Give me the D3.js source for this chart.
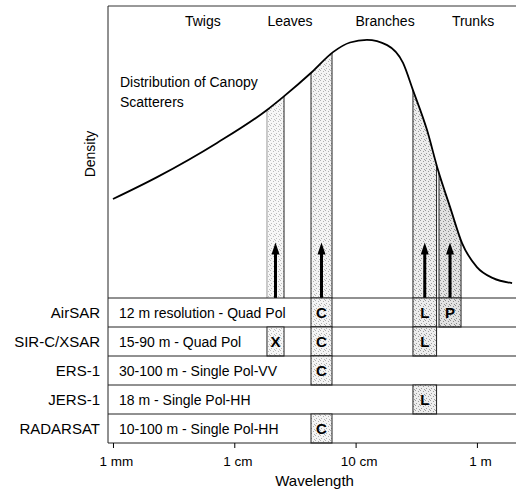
<!DOCTYPE html>
<html>
<head>
<meta charset="utf-8">
<script src="https://cdn.jsdelivr.net/npm/d3@7"></script>
<style>
  body { margin: 0; background: #fff; }
  svg { font-family: "Liberation Sans", Arial, Helvetica, sans-serif; }
</style>
</head>
<body>
<svg id="chart"></svg>
<script>
// wavelength in mm, density relative
const curveWavelength = [1.0, 2.31, 7.2, 18.6, 25.2, 43.7, 65.1, 89.9, 124, 182, 246, 297, 388, 478, 600, 754, 1000, 1358, 1950];
const curveDensity = [0.339, 0.414, 0.531, 0.644, 0.688, 0.774, 0.842, 0.875, 0.884, 0.866, 0.805, 0.712, 0.575, 0.438, 0.312, 0.188, 0.106, 0.068, 0.051];

const bandNames = ['X', 'C', 'L', 'P'];
const bandLow = [18.6, 42.9, 297, 487];
const bandHigh = [25.7, 63.9, 465, 740];
const arrowDensity = 0.19;

const scatterers = ['Twigs', 'Leaves', 'Branches', 'Trunks'];
const scattererWavelength = [5.5, 28.8, 175, 929];

const sensors = ['AirSAR', 'SIR-C/XSAR', 'ERS-1', 'JERS-1', 'RADARSAT'];
const sensorNotes = [
  '12 m resolution - Quad Pol',
  '15-90 m - Quad Pol',
  '30-100 m - Single Pol-VV',
  '18 m - Single Pol-HH',
  '10-100 m - Single Pol-HH',
];
const sensorBands = [['C', 'L', 'P'], ['X', 'C', 'L'], ['C'], ['L'], ['C']];

const tickValues = [1, 10, 100, 1000];
const tickLabels = ['1 mm', '1 cm', '10 cm', '1 m'];

const w = 516;
const h = 494;

const bandStyle = {
  X: { bg: '#f7f7f7', dot: '#bcbcbc' },
  C: { bg: '#f4f4f4', dot: '#b0b0b0' },
  L: { bg: '#ededed', dot: '#9c9c9c' },
  P: { bg: '#e2e2e2', dot: '#8c8c8c' },
};

const svg = d3.select('#chart').attr('width', w).attr('height', h);

const x = d3.scaleLog().domain([0.91, 2100]).range([108, 516]);
const y = d3.scaleLinear().domain([0, 1]).range([298, 6]);
const row = d3.scaleBand().domain(sensors).range([298, 443]);

////////////////////////
////// PATTERNS ////////
////////////////////////

const defs = svg.append('defs');
bandNames.forEach((b) => {
  const p = defs
    .append('pattern')
    .attr('id', 'stip-' + b)
    .attr('width', 5)
    .attr('height', 5)
    .attr('patternUnits', 'userSpaceOnUse');
  p.append('rect').attr('width', 5).attr('height', 5).attr('fill', bandStyle[b].bg);
  [[0, 0], [3, 1], [1, 3], [4, 4]].forEach(([px, py]) => {
    p.append('rect')
      .attr('x', px)
      .attr('y', py)
      .attr('width', 1)
      .attr('height', 1)
      .attr('fill', bandStyle[b].dot);
  });
});

const curvePts = curveWavelength.map((d, i) => [d, curveDensity[i]]);

defs
  .append('clipPath')
  .attr('id', 'under')
  .append('path')
  .attr(
    'd',
    d3
      .area()
      .x((d) => x(d[0]))
      .y0(y(0))
      .y1((d) => y(d[1]))
      .curve(d3.curveMonotoneX)(curvePts)
  );

////////////////////////
///// BANDS (TOP) //////
////////////////////////

const upper = svg.append('g').attr('clip-path', 'url(#under)');

bandNames.forEach((b, i) => {
  upper
    .append('rect')
    .attr('x', x(bandLow[i]))
    .attr('y', y(1))
    .attr('width', x(bandHigh[i]) - x(bandLow[i]))
    .attr('height', y(0) - y(1))
    .attr('fill', 'url(#stip-' + b + ')');
  [bandLow[i], bandHigh[i]].forEach((v, j) => {
    upper
      .append('line')
      .attr('x1', x(v))
      .attr('x2', x(v))
      .attr('y1', y(1))
      .attr('y2', y(0))
      .attr('stroke', b === 'X' && j === 0 ? '#999' : '#222')
      .attr('stroke-width', 1);
  });
});

// arrows
bandNames.forEach((b, i) => {
  const cx = Math.sqrt(bandLow[i] * bandHigh[i]);
  const px = x(cx);
  const tip = y(arrowDensity);
  svg
    .append('rect')
    .attr('x', px - 1.5)
    .attr('y', tip + 10)
    .attr('width', 3)
    .attr('height', y(0) - tip - 10)
    .attr('fill', '#000');
  svg
    .append('path')
    .attr('d', `M${px},${tip} L${px + 4},${tip + 12} L${px - 4},${tip + 12} Z`)
    .attr('fill', '#000');
});

// density curve
svg
  .append('path')
  .attr(
    'd',
    d3
      .line()
      .x((d) => x(d[0]))
      .y((d) => y(d[1]))
      .curve(d3.curveMonotoneX)(curvePts)
  )
  .attr('fill', 'none')
  .attr('stroke', '#000')
  .attr('stroke-width', 1.8);

////////////////////////
/////// FRAME //////////
////////////////////////

svg
  .append('line')
  .attr('x1', x.range()[0])
  .attr('x2', x.range()[1])
  .attr('y1', y(1))
  .attr('y2', y(1))
  .attr('stroke', '#333');

svg
  .append('line')
  .attr('x1', x.range()[0])
  .attr('x2', x.range()[0])
  .attr('y1', y(1))
  .attr('y2', row.range()[1])
  .attr('stroke', '#222');

svg
  .selectAll('.scatterer')
  .data(scatterers)
  .enter()
  .append('text')
  .attr('x', (d, i) => x(scattererWavelength[i]))
  .attr('y', 26)
  .attr('text-anchor', 'middle')
  .attr('font-size', 14)
  .text((d) => d);

svg
  .append('text')
  .attr('x', 120)
  .attr('y', 87)
  .attr('font-size', 14)
  .text('Distribution of Canopy');
svg
  .append('text')
  .attr('x', 120)
  .attr('y', 107)
  .attr('font-size', 14)
  .text('Scatterers');

svg
  .append('text')
  .attr('transform', 'translate(95,154) rotate(-90)')
  .attr('text-anchor', 'middle')
  .attr('font-size', 14)
  .text('Density');

////////////////////////
/////// SENSORS ////////
////////////////////////

sensors.forEach((s, i) => {
  const ry = row(s);
  const rh = row.bandwidth();
  const g = svg.append('g');

  g.append('line')
    .attr('x1', x.range()[0])
    .attr('x2', x.range()[1])
    .attr('y1', ry)
    .attr('y2', ry)
    .attr('stroke', '#222');

  sensorBands[i].forEach((b) => {
    const k = bandNames.indexOf(b);
    const x0 = x(bandLow[k]);
    const x1 = x(bandHigh[k]);
    g.append('rect')
      .attr('x', x0)
      .attr('y', ry)
      .attr('width', x1 - x0)
      .attr('height', rh)
      .attr('fill', 'url(#stip-' + b + ')')
      .attr('stroke', '#222');
    g.append('text')
      .attr('x', (x0 + x1) / 2)
      .attr('y', ry + rh / 2 + 5.5)
      .attr('text-anchor', 'middle')
      .attr('font-size', 15)
      .attr('font-weight', 'bold')
      .text(b);
  });

  g.append('text')
    .attr('x', 100)
    .attr('y', ry + rh / 2 + 5)
    .attr('text-anchor', 'end')
    .attr('font-size', 15)
    .text(s);

  g.append('text')
    .attr('x', 119)
    .attr('y', ry + rh / 2 + 5)
    .attr('font-size', 14)
    .text(sensorNotes[i]);
});

svg
  .append('line')
  .attr('x1', x.range()[0])
  .attr('x2', x.range()[1])
  .attr('y1', row.range()[1])
  .attr('y2', row.range()[1])
  .attr('stroke', '#222');

////////////////////////
//////// AXIS //////////
////////////////////////

const axis = svg
  .append('g')
  .attr('transform', `translate(0,${row.range()[1]})`)
  .call(
    d3
      .axisBottom(x)
      .tickValues(tickValues)
      .tickFormat((d, i) => tickLabels[i])
      .tickSize(5)
      .tickPadding(8)
  );
axis.select('.domain').remove();
axis
  .selectAll('text')
  .attr('font-size', 13.5)
  .attr('font-family', null)
  .attr('fill', '#000')
  .attr('dx', 3);
axis.selectAll('line').attr('stroke', '#000');

svg
  .append('text')
  .attr('x', x(100) - 41)
  .attr('y', 486)
  .attr('text-anchor', 'middle')
  .attr('font-size', 15)
  .text('Wavelength');
</script>
</body>
</html>
